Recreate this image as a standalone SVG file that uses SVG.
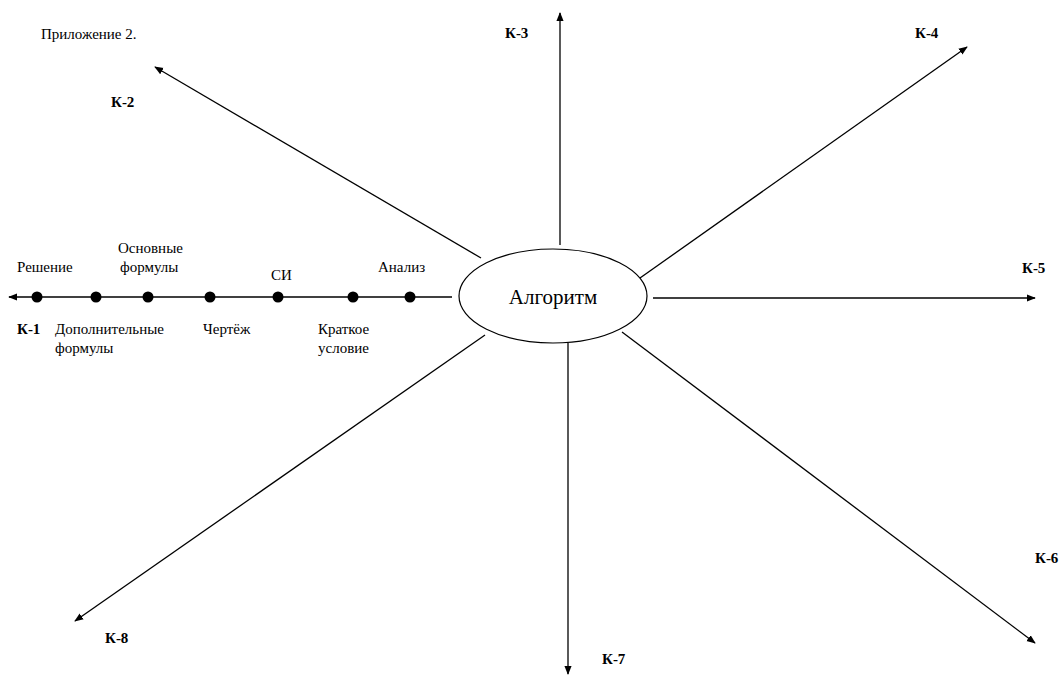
<svg xmlns="http://www.w3.org/2000/svg" width="1062" height="675" viewBox="0 0 1062 675" font-family="'Liberation Serif', 'DejaVu Serif', serif">
<defs>
<style>
text{font-family:'Liberation Serif','DejaVu Serif',serif;fill:#000}
.t{font-size:15px}
.k{font-size:15px;font-weight:bold}
.ln{stroke:#000;stroke-width:1.3;fill:none}
</style>
<marker id="ah" viewBox="0 0 10 10" refX="9" refY="5" markerWidth="9" markerHeight="9" markerUnits="userSpaceOnUse" orient="auto">
<path d="M0,1 L10,5 L0,9 Z" fill="#000"/>
</marker>
</defs>
<rect width="1062" height="675" fill="#fff"/>
<text class="t" x="41" y="39" font-family="'Liberation Serif', serif">Приложение 2.</text>
<g id="connectors">
<line class="ln" x1="452" y1="297" x2="9" y2="297" marker-end="url(#ah)"/>
<line class="ln" x1="481" y1="258" x2="155" y2="67" marker-end="url(#ah)"/>
<line class="ln" x1="560" y1="245" x2="560" y2="13" marker-end="url(#ah)"/>
<line class="ln" x1="640" y1="278" x2="967" y2="47" marker-end="url(#ah)"/>
<line class="ln" x1="653" y1="298" x2="1035" y2="298" marker-end="url(#ah)"/>
<line class="ln" x1="622" y1="332" x2="1035" y2="643" marker-end="url(#ah)"/>
<line class="ln" x1="568" y1="343" x2="568" y2="674" marker-end="url(#ah)"/>
<line class="ln" x1="485" y1="335" x2="75" y2="621" marker-end="url(#ah)"/>
</g>
<g id="steps" font-family="'Liberation Serif', serif">
<circle cx="37" cy="297" r="5.5"/>
<circle cx="96" cy="297" r="5.5"/>
<circle cx="148" cy="297" r="5.5"/>
<circle cx="210" cy="297" r="5.5"/>
<circle cx="278" cy="297" r="5.5"/>
<circle cx="353" cy="297" r="5.5"/>
<circle cx="410" cy="297" r="5.5"/>
<text class="t" x="17" y="272">Решение</text>
<text class="t" x="118" y="253">Основные</text>
<text class="t" x="120" y="272">формулы</text>
<text class="t" x="271" y="280">СИ</text>
<text class="t" x="378" y="272">Анализ</text>
<text class="t" x="55" y="334">Дополнительные</text>
<text class="t" x="55" y="353">формулы</text>
<text class="t" x="203" y="334">Чертёж</text>
<text class="t" x="318" y="334">Краткое</text>
<text class="t" x="318" y="353">условие</text>
</g>
<g id="node-algorithm">
<ellipse cx="553" cy="296" rx="94" ry="47" fill="#fff" stroke="#000" stroke-width="1.2"/>
<text x="553" y="304" text-anchor="middle" font-family="'Liberation Serif', serif" style="font-size:21px">Алгоритм</text>
</g>
<g id="labels" font-family="'Liberation Serif', serif">
<text class="k" x="17" y="334">К-1</text>
<text class="k" x="111" y="107">К-2</text>
<text class="k" x="505" y="38">К-3</text>
<text class="k" x="915" y="38">К-4</text>
<text class="k" x="1022" y="273">К-5</text>
<text class="k" x="1035" y="563">К-6</text>
<text class="k" x="602" y="664">К-7</text>
<text class="k" x="105" y="643">К-8</text>
</g>
</svg>
